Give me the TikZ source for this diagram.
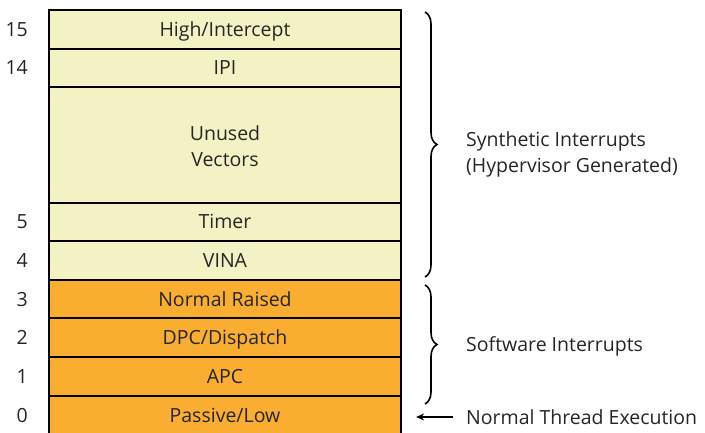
\documentclass[tikz,border=0pt]{standalone}
\usepackage{fontspec}
\setmainfont{Open Sans}
\usetikzlibrary{arrows.meta, decorations.pathreplacing}

\definecolor{synyellow}{RGB}{243,242,196}
\definecolor{softorange}{RGB}{249,174,50}

\begin{document}
\begin{tikzpicture}[
  x=1pt, y=-1pt,
  font=\fontsize{19.5}{26}\selectfont,
  oneline/.style={text height=15.5pt, text depth=1.5pt},
  level/.style={draw=black, line width=2.2pt, minimum width=352pt, inner sep=0pt, align=center, text=black!85},
  syn/.style={level, fill=synyellow},
  soft/.style={level, fill=softorange},
  num/.style={anchor=east, inner sep=0pt, oneline, text=black!85},
  brace/.style={decorate, decoration={brace, amplitude=12pt}, line width=1.6pt},
  side/.style={anchor=west, align=left, inner sep=0pt, text=black!85},
  pointer/.style={-{Stealth[length=8pt, width=7pt]}, line width=1.8pt},
]
\useasboundingbox (0,0) rectangle (705,433);
\clip (0,0) rectangle (705,433);

% IRQL rows, top to bottom
\node[syn, oneline,  minimum height=39pt]  (high)    at (225,29.5)  {High/Intercept};
\node[syn, oneline,  minimum height=38pt]  (ipi)     at (225,68)    {IPI};
\node[syn, text height=46pt, text depth=2pt, minimum height=116pt] (unused) at (225,145) {Unused\\Vectors};
\node[syn, oneline,  minimum height=38pt]  (timer)   at (225,222)   {Timer};
\node[syn, oneline,  minimum height=39pt]  (vina)    at (225,260.5) {VINA};
\node[soft, oneline, minimum height=38pt]  (raised)  at (225,299)   {Normal Raised};
\node[soft, oneline, minimum height=39pt]  (dpc)     at (225,337.5) {DPC/Dispatch};
\node[soft, oneline, minimum height=39pt]  (apc)     at (225,376.5) {APC};
\node[soft, oneline, minimum height=39pt]  (passive) at (225,415.5) {Passive/Low};

% level numbers
\coordinate (numcol) at (28,0);
\node[num] (n15) at (numcol |- high)    {15};
\node[num] (n14) at (numcol |- ipi)     {14};
\node[num] (n5)  at (numcol |- timer)   {5};
\node[num] (n4)  at (numcol |- vina)    {4};
\node[num] (n3)  at (numcol |- raised)  {3};
\node[num] (n2)  at (numcol |- dpc)     {2};
\node[num] (n1)  at (numcol |- apc)     {1};
\node[num] (n0)  at (numcol |- passive) {0};

% groups on the right
\coordinate (synTop) at (425,12);
\coordinate (synBot) at (425,277);
\coordinate (swTop)  at (425,285);
\coordinate (swBot)  at (425,404);
\draw[brace] (synTop) -- (synBot);
\draw[brace] (swTop) -- (swBot);

\node[side] (synLabel) at (466,154) {Synthetic Interrupts\\(Hypervisor Generated)};
\node[side, oneline] (swLabel)  at (466,344) {Software Interrupts};
\node[side, oneline] (normal)   at (466,417) {Normal Thread Execution};

% arrow to passive level
\draw[pointer, shorten <=13pt, shorten >=14pt] (normal.west) -- (normal.west -| passive.east);

\end{tikzpicture}
\end{document}
